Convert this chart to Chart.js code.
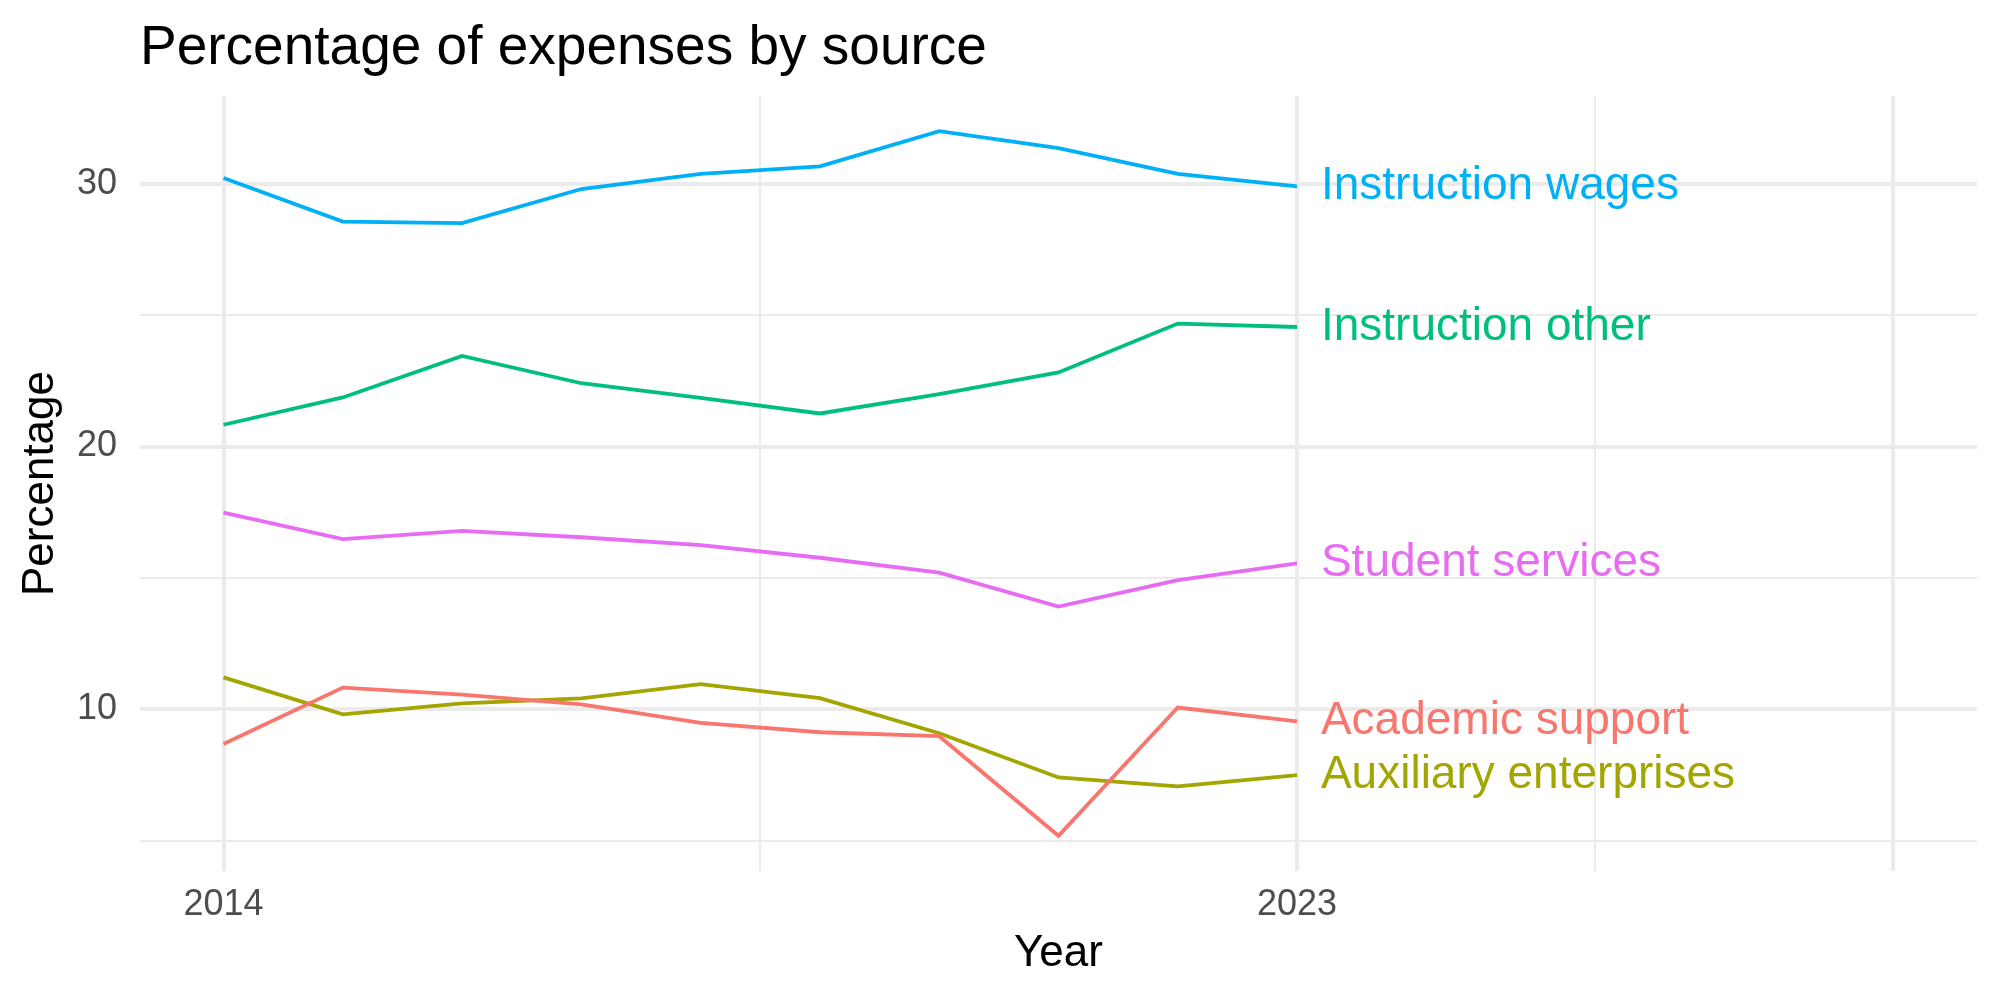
<!DOCTYPE html>
<html>
<head>
<meta charset="utf-8">
<script src="https://cdn.jsdelivr.net/npm/chart.js@4"></script>
<style>
  body { margin: 0; background: #ffffff; }
  canvas { display: block; }
</style>
</head>
<body>
<canvas id="chartjs" width="2000" height="1000"></canvas>
<script>
var years = [2014, 2015, 2016, 2017, 2018, 2019, 2020, 2021, 2022, 2023];

var academicSupport = [8.68, 10.83, 10.56, 10.19, 9.49, 9.13, 8.98, 5.19, 10.07, 9.54];
var auxiliaryEnterprises = [11.22, 9.81, 10.23, 10.42, 10.96, 10.43, 9.09, 7.41, 7.07, 7.5];
var instructionOther = [20.83, 21.87, 23.45, 22.41, 21.85, 21.26, 22.0, 22.82, 24.68, 24.55];
var instructionWages = [30.22, 28.56, 28.5, 29.8, 30.38, 30.66, 32.0, 31.36, 30.38, 29.9];
var studentServices = [17.49, 16.48, 16.79, 16.55, 16.25, 15.77, 15.2, 13.91, 14.92, 15.56];

var seriesNames = ["Academic support", "Auxiliary enterprises", "Instruction other", "Instruction wages", "Student services"];
var seriesValues = [academicSupport, auxiliaryEnterprises, instructionOther, instructionWages, studentServices];
var seriesColors = ["#F8766D", "#A3A500", "#00BF7D", "#00B0F6", "#E76BF3"];

var xTicks = [2014, 2018.5, 2023, 2025.5, 2028];
var xTickLabels = ["2014", "", "2023", "", ""];
var xMajor = [2014, 2023, 2028];
var yTicks = [5, 10, 15, 20, 25, 30];
var yTickLabels = ["", "10", "", "20", "", "30"];
var yMajor = [10, 20, 30];

var labelYear = 2023.2;
var fontName = "'Liberation Sans', Arial, sans-serif";

var datasets = [];
for (let i = 0; i < seriesNames.length; i++) {
  datasets.push({
    label: seriesNames[i],
    data: years.map(function (yr, j) { return { x: yr, y: seriesValues[i][j] }; }),
    borderColor: seriesColors[i],
    backgroundColor: seriesColors[i],
    borderWidth: 3.8,
    pointRadius: 0,
    tension: 0,
    fill: false
  });
}

// title and end-of-line labels
var textPlugin = {
  id: "textPlugin",
  afterDatasetsDraw: function (chart) {
    var ctx = chart.ctx;
    var xs = chart.scales.x;
    var ys = chart.scales.y;
    ctx.save();
    ctx.font = "46px " + fontName;
    ctx.textAlign = "left";
    ctx.textBaseline = "middle";
    for (let i = 0; i < seriesNames.length; i++) {
      var vals = seriesValues[i];
      ctx.fillStyle = seriesColors[i];
      ctx.fillText(seriesNames[i], xs.getPixelForValue(labelYear), ys.getPixelForValue(vals[vals.length - 1]));
    }
    ctx.fillStyle = "#000000";
    ctx.font = "55px " + fontName;
    ctx.textBaseline = "alphabetic";
    ctx.fillText("Percentage of expenses by source", chart.chartArea.left, 64);
    ctx.restore();
  }
};

var ctx0 = document.getElementById("chartjs");
var myChart = new Chart(ctx0, {
  type: "line",
  data: { datasets: datasets },
  plugins: [textPlugin],
  options: {
    responsive: false,
    animation: false,
    devicePixelRatio: 1,
    layout: { padding: { top: 96, right: 23, left: 0, bottom: 0 } },
    plugins: {
      legend: { display: false },
      title: { display: false },
      tooltip: { enabled: false }
    },
    scales: {
      x: {
        type: "linear",
        min: 2013.3,
        max: 2028.7,
        afterBuildTicks: function (scale) {
          scale.ticks = xTicks.map(function (v) { return { value: v }; });
        },
        afterFit: function (scale) { scale.height = 129; },
        border: { display: false },
        grid: {
          color: "#EBEBEB",
          drawTicks: false,
          lineWidth: function (c) { return xMajor.indexOf(c.tick.value) >= 0 ? 4 : 2; }
        },
        ticks: {
          autoSkip: false,
          maxRotation: 0,
          padding: 12,
          color: "#4D4D4D",
          font: { family: fontName, size: 36 },
          callback: function (value) {
            var k = xTicks.indexOf(value);
            return k >= 0 ? xTickLabels[k] : "";
          }
        },
        title: {
          display: true,
          text: "Year",
          color: "#000000",
          font: { family: fontName, size: 44 },
          padding: { top: 0, bottom: 20 }
        }
      },
      y: {
        type: "linear",
        min: 3.85,
        max: 33.34,
        afterBuildTicks: function (scale) {
          scale.ticks = yTicks.map(function (v) { return { value: v }; });
        },
        afterFit: function (scale) { scale.width = 140; },
        border: { display: false },
        grid: {
          color: "#EBEBEB",
          drawTicks: false,
          lineWidth: function (c) { return yMajor.indexOf(c.tick.value) >= 0 ? 4 : 2; }
        },
        ticks: {
          autoSkip: false,
          padding: 23,
          color: "#4D4D4D",
          font: { family: fontName, size: 36 },
          callback: function (value) {
            var k = yTicks.indexOf(value);
            return k >= 0 ? yTickLabels[k] : "";
          }
        },
        title: {
          display: true,
          text: "Percentage",
          color: "#000000",
          font: { family: fontName, size: 44 },
          padding: { top: 14, bottom: 0 }
        }
      }
    }
  }
});
</script>
</body>
</html>
